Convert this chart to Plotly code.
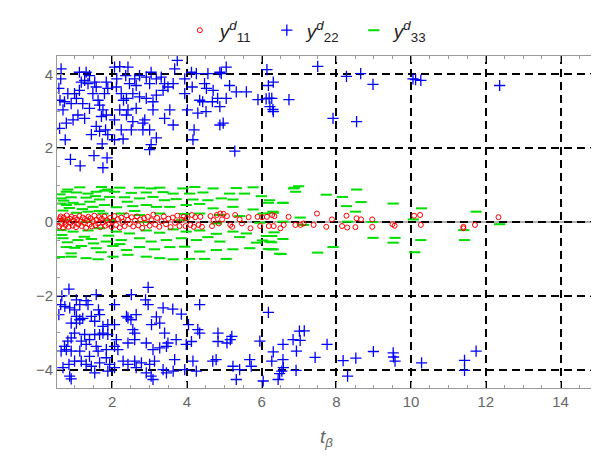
import plotly.graph_objects as go

# ---------------- data ----------------
# y^d_22 upper cluster
b_top_x = [0.63,0.62,0.57,0.6,0.68,0.59,0.74,0.88,1.14,0.77,0.95,1.08,1.26,0.9,0.99,1.12,1.17,1.12,1.3,1.39,
           1.26,1.35,1.53,1.57,1.48,1.62,1.66,1.75,1.84,1.71,1.57,1.44,1.66,1.82,1.88,1.73,1.51,1.86,1.75,1.39,
           1.21,1.04,0.81,0.72,1.84,1.88,1.79,2.06,2.2,2.42,2.36,2.12,2.11,2.24,2.3,2.38,2.46,2.6,2.64,2.73,
           2.91,3.04,3.0,3.18,3.31,3.4,3.49,3.63,3.36,3.18,3.09,2.91,2.73,2.55,2.64,2.42,2.2,2.38,2.55,2.51,
           2.24,2.29,2.06,2.06,2.82,2.82,3.0,3.18,3.04,3.0,2.87,3.09,3.4,3.54,3.63,3.67,3.74,3.94,3.94,4.01,
           4.12,4.25,4.14,4.34,4.47,4.52,4.56,4.7,4.88,4.92,5.05,5.14,5.32,5.59,5.05,4.82,4.68,4.42,4.51,4.29,
           4.88,4.19,4.16,4.88,4.97,5.28,5.9,6.14,6.18,6.31,6.27,6.22,6.31,6.73,7.5,8.27,8.65,8.98,7.91,8.54,
           10.05,10.12,10.26,12.37,6.12,6.2,6.3]
b_top_y = [4.15,3.88,3.62,3.3,3.04,2.54,2.23,1.7,1.52,2.68,2.77,2.9,2.81,3.21,3.48,3.57,3.79,4.06,4.06,3.97,
           3.84,3.75,3.79,3.66,3.48,3.3,3.17,3.04,2.9,2.86,2.59,2.37,2.46,2.5,2.37,2.12,1.8,1.74,1.47,3.08,
           3.21,3.35,3.48,3.26,3.79,3.62,3.48,4.2,4.21,4.2,3.97,3.88,3.66,3.48,3.3,3.35,3.75,3.88,3.7,3.97,
           3.93,4.06,3.75,3.88,3.93,3.75,3.66,3.75,3.57,3.44,3.26,3.35,3.39,3.48,3.08,3.04,3.04,2.9,2.72,2.5,
           2.5,2.25,2.23,2.77,2.68,2.5,2.5,2.28,2.1,1.96,2.77,3.04,2.81,3.04,2.63,4.15,4.38,3.88,3.48,3.04,
           4.06,4.02,3.66,3.3,3.75,3.62,4.02,3.57,4.06,4.02,4.2,3.7,3.53,3.53,3.35,3.35,3.26,3.26,2.99,2.95,
           3.13,2.5,2.23,2.63,2.68,1.92,3.32,4.13,3.7,3.79,3.35,3.13,2.99,3.32,4.22,3.95,4.02,3.73,2.81,2.72,
           3.88,3.86,3.84,3.7,3.34,3.36,3.05]

# y^d_22 lower cluster
b_bot_x = [0.84,0.65,1.57,2.51,2.96,2.89,2.96,2.06,1.04,1.13,1.35,1.3,0.62,0.73,0.86,0.99,0.57,1.04,1.13,0.9,
           1.04,1.21,1.44,1.66,1.63,1.53,1.75,1.88,2.06,2.38,2.64,2.5,2.42,3.18,3.36,3.62,3.85,4.34,4.04,3.05,
           3.27,3.4,2.55,2.6,4.29,4.34,4.83,5.2,5.16,5.07,4.83,4.12,3.98,3.71,3.49,3.45,3.27,3.09,2.91,2.6,
           2.42,2.11,2.06,2.15,1.88,1.75,1.66,1.53,1.39,1.26,1.17,0.99,0.9,0.81,0.72,0.77,0.63,0.9,1.13,1.3,
           1.57,1.62,1.84,1.39,1.17,0.99,1.44,1.3,1.66,1.84,1.93,2.06,1.88,1.53,0.84,0.68,0.86,0.9,2.29,2.42,
           2.6,2.64,2.78,3.0,3.13,2.91,3.04,3.09,3.36,3.45,3.63,3.67,3.94,4.16,4.25,4.78,4.69,5.23,5.41,5.68,
           5.72,5.32,5.95,6.18,6.31,6.57,6.57,6.27,6.44,6.54,6.04,6.84,6.93,7.01,7.14,7.03,7.43,7.75,6.58,6.48,
           6.92,8.18,8.3,8.52,8.99,9.52,9.53,9.57,10.28,11.43,11.43,11.74]
b_bot_y = [-1.82,-2.0,-1.97,-1.97,-1.77,-2.11,-2.24,-2.24,-2.11,-2.24,-2.24,-2.13,-2.24,-2.29,-2.33,-2.38,-2.51,-2.56,-2.65,-2.74,
           -2.74,-2.61,-2.56,-2.51,-2.38,-2.69,-2.83,-2.78,-2.78,-2.56,-2.51,-2.65,-2.6,-2.57,-2.33,-2.36,-2.5,-2.24,-2.78,-2.78,
           -2.74,-3.01,-2.92,-3.01,-2.92,-3.01,-3.01,-3.1,-3.19,-3.28,-3.24,-3.24,-3.32,-3.19,-3.28,-3.37,-3.41,-3.46,-3.28,-3.19,
           -3.28,-3.19,-3.37,-3.46,-3.05,-3.01,-3.05,-3.05,-3.19,-3.05,-3.23,-3.01,-3.14,-3.23,-3.37,-3.46,-3.5,-3.5,-3.5,-3.32,
           -3.37,-3.5,-3.46,-3.64,-3.77,-3.77,-3.91,-3.86,-3.82,-3.68,-3.86,-3.95,-4.04,-4.09,-3.86,-3.95,-4.18,-4.25,-3.77,-3.86,
           -3.77,-3.95,-3.82,-3.86,-3.77,-4.09,-4.18,-4.27,-4.0,-4.09,-4.04,-3.73,-4.0,-3.77,-4.04,-3.73,-3.77,-3.91,-4.0,-3.73,
           -3.91,-4.27,-3.23,-2.45,-3.52,-3.32,-3.73,-3.77,-4.27,-4.04,-4.31,-3.19,-3.5,-2.96,-2.95,-3.21,-3.67,-3.32,-3.95,-4.11,
           -4.02,-3.76,-4.18,-3.69,-3.51,-3.55,-3.66,-3.77,-3.82,-3.75,-4.02,-3.5]

# y^d_33
g_x = [1.13,1.71,2.2,2.73,3.04,3.27,3.89,4.21,4.7,5.32,5.77,6.88,0.81,1.88,0.77,1.04,1.35,1.57,2.06,2.51,
       2.91,3.36,3.63,4.07,4.43,5.14,5.54,5.99,0.63,0.9,1.3,1.66,1.93,2.33,2.73,3.09,3.4,3.71,4.16,4.56,
       4.92,5.23,6.21,6.57,0.63,0.77,1.13,1.48,1.79,2.11,2.55,2.91,3.18,3.54,3.98,4.34,4.7,5.23,5.77,6.3,
       0.68,1.04,1.35,1.75,2.24,2.73,3.27,3.94,4.34,4.88,5.41,6.04,0.77,1.3,1.93,2.82,3.85,4.79,5.95,0.63,
       0.95,1.35,1.66,2.11,2.46,2.91,3.27,3.63,3.98,4.34,4.79,5.23,5.59,6.13,0.68,1.08,1.44,1.84,2.24,2.73,
       3.04,3.45,3.85,4.25,4.56,4.88,5.41,5.86,6.21,0.77,1.17,1.57,2.02,2.38,2.73,3.13,3.54,3.94,4.34,4.79,
       5.23,5.68,6.26,6.48,0.59,0.9,1.3,1.62,2.02,2.42,2.91,3.27,3.63,4.07,4.47,5.05,6.99,6.85,6.91,7.73,
       8.16,8.54,6.18,6.57,8.27,8.66,6.31,7.03,8.51,9.52,10.28,11.74,10.06,8.3,8.96,6.57,7.12,6.02,6.27,6.27,
       6.18,6.31,6.57,6.52,7.5,7.91,8.98,9.57,9.52,10.26,10.1,11.43,11.41,12.37,6.33,0.6,0.7,0.85,0.95,1.2,
       1.4,1.55,1.65,1.8,0.65,0.8,1.0,1.25,1.5,1.7,1.9,2.2,2.4,2.6,0.9]
g_y = [0.94,0.95,0.93,0.93,0.91,0.93,0.91,0.95,0.91,0.92,0.94,0.93,0.88,0.88,0.82,0.8,0.77,0.82,0.82,0.79,
       0.8,0.81,0.77,0.77,0.8,0.77,0.77,0.7,0.64,0.67,0.66,0.61,0.68,0.67,0.64,0.68,0.59,0.62,0.61,0.59,
       0.64,0.61,0.59,0.52,0.5,0.46,0.48,0.41,0.46,0.4,0.43,0.46,0.41,0.41,0.46,0.49,0.37,0.41,0.34,0.28,
       0.31,0.25,0.28,0.23,0.23,0.19,0.23,0.22,0.23,0.19,0.16,0.23,0.05,0.01,0.05,0.0,0.05,-0.04,-0.02,-0.22,
       -0.26,-0.23,-0.17,-0.26,-0.31,-0.23,-0.29,-0.2,-0.26,-0.23,-0.32,-0.26,-0.31,-0.38,-0.44,-0.49,-0.46,-0.53,-0.49,-0.44,
       -0.53,-0.49,-0.44,-0.49,-0.41,-0.53,-0.41,-0.56,-0.53,-0.68,-0.65,-0.71,-0.65,-0.76,-0.68,-0.74,-0.68,-0.67,-0.8,-0.76,
       -0.74,-0.71,-0.74,-0.86,-0.95,-0.94,-0.98,-1.01,-0.94,-0.89,-0.94,-0.98,-1.01,-1.0,-1.0,-1.0,0.97,0.91,0.82,0.74,
       0.68,0.88,0.52,0.52,0.43,0.54,0.25,0.12,0.28,0.5,0.37,0.28,0.07,0.01,0.0,0.01,-0.08,-0.5,-0.38,-0.55,
       -0.73,-0.74,-0.46,-0.87,-0.83,-0.68,-0.43,-0.43,-0.56,-0.49,-0.82,-0.49,-0.22,-0.06,-0.28,0.75,0.58,0.38,0.52,0.35,
       0.55,0.7,0.3,0.85,-0.35,-0.55,-0.7,-0.4,-0.58,-0.82,-0.37,-0.6,0.55,0.3,-0.85]

# y^d_11
r_x = [0.56,0.58,0.6,0.62,0.64,0.66,0.68,0.7,0.72,0.75,0.78,0.8,0.83,0.86,0.88,0.91,0.94,0.97,1.0,1.03,
       1.06,1.09,1.12,1.15,1.18,1.21,1.24,1.27,1.3,1.33,1.36,1.39,1.42,1.45,1.48,1.52,1.55,1.58,1.62,1.65,
       1.68,1.72,1.75,1.79,1.82,1.86,1.9,1.94,1.98,2.02,2.06,2.1,2.15,2.2,2.24,2.28,2.33,2.38,2.42,2.47,
       2.52,2.56,2.61,2.66,2.7,2.75,2.8,2.85,2.9,2.95,3.0,3.05,3.1,3.15,3.2,3.26,3.32,3.38,3.44,3.5,
       3.56,3.62,3.68,3.74,3.8,3.86,3.91,4.0,4.13,4.22,4.36,4.31,4.09,3.96,4.18,4.4,4.63,4.67,4.8,4.89,
       4.98,4.94,5.07,5.16,5.21,5.29,5.41,5.65,5.7,5.89,6.01,5.96,6.14,6.19,6.28,6.34,6.32,6.5,6.59,6.72,
       6.9,7.04,4.85,5.47,4.71,7.48,7.88,7.73,8.15,8.29,8.27,8.51,8.54,8.66,8.96,8.96,9.5,9.56,10.08,10.24,
       10.26,11.4,11.4,11.71,12.34,7.12,7.39]
r_y = [0.02,-0.12,0.1,0.15,-0.05,0.05,-0.15,0.12,0.0,-0.08,0.18,0.06,-0.13,0.09,-0.03,0.14,-0.1,0.03,0.11,-0.14,
       0.07,-0.06,0.16,0.01,-0.11,0.12,-0.02,0.08,-0.16,0.04,0.14,-0.07,0.1,-0.12,0.02,0.17,-0.09,0.06,-0.04,0.13,
       -0.14,0.09,-0.01,0.15,-0.1,0.05,-0.06,0.11,-0.13,0.03,0.16,-0.08,0.08,-0.15,0.12,0.0,-0.11,0.18,0.06,-0.05,
       0.13,-0.12,0.04,0.15,-0.09,0.07,-0.16,0.1,-0.03,0.14,-0.1,0.05,0.2,-0.07,0.11,-0.13,0.02,0.15,-0.06,0.09,
       -0.14,0.12,-0.02,0.17,-0.11,0.06,0.14,0.1,0.19,0.13,0.14,-0.08,-0.08,-0.11,-0.13,-0.13,0.16,-0.11,0.19,0.23,
       0.22,0.07,0.16,-0.08,-0.13,0.19,0.07,0.13,-0.17,0.14,0.13,-0.11,0.14,-0.11,0.19,0.16,-0.11,-0.17,-0.08,0.14,
       -0.08,-0.08,-0.04,-0.04,0.05,0.23,0.07,-0.13,-0.11,-0.15,0.17,-0.14,0.1,0.07,0.07,-0.13,-0.06,-0.1,0.17,0.19,
       -0.08,-0.13,-0.17,-0.08,0.13,-0.04,-0.08]

x_ticks = [2, 4, 6, 8, 10, 12, 14]
y_ticks = [-4, -2, 0, 2, 4]
names = ["<i>y</i><sup><i>d</i></sup><sub>11</sub>",
         "<i>y</i><sup><i>d</i></sup><sub>22</sub>",
         "<i>y</i><sup><i>d</i></sup><sub>33</sub>"]

# ---------------- figure ----------------
fig = go.Figure()
fig.add_trace(go.Scatter(x=g_x, y=g_y, mode="markers", name=names[2],
                         marker=dict(symbol="line-ew-open", size=8, color="#00dd00",
                                     line=dict(color="#00dd00", width=2))))
fig.add_trace(go.Scatter(x=b_top_x + b_bot_x, y=b_top_y + b_bot_y, mode="markers", name=names[1],
                         marker=dict(symbol="cross-thin-open", size=8, color="#0000ff",
                                     line=dict(color="#0000ff", width=1.3))))
fig.add_trace(go.Scatter(x=r_x, y=r_y, mode="markers", name=names[0],
                         marker=dict(symbol="circle-open", size=5, color="#ff0000",
                                     line=dict(color="#ff0000", width=1))))

fig.add_shape(type="line", xref="paper", x0=0, x1=1, yref="y", y0=0, y1=0,
              line=dict(color="#999999", width=1.5), layer="below")

axis_common = dict(showline=True, linecolor="#999999", linewidth=1, mirror="ticks",
                   ticks="inside", ticklen=6, tickcolor="#999999", tickwidth=1,
                   showgrid=True, gridcolor="#000000", gridwidth=1.5, griddash="8px,5px",
                   zeroline=False, tickfont=dict(family="Liberation Sans", size=15, color="#666666"),
                   minor=dict(dtick=0.5, ticks="inside", ticklen=3, tickcolor="#999999", showgrid=False))

fig.update_xaxes(range=[0.52, 14.95], tickvals=x_ticks,
                 title=dict(text="<i>t</i><sub><i>β</i></sub>", standoff=20,
                            font=dict(family="Liberation Sans", size=19, color="#666666")),
                 **axis_common)
fig.update_yaxes(range=[-4.5, 4.5], tickvals=y_ticks, **axis_common)

fig.update_layout(
    width=591, height=448,
    margin=dict(l=49, r=3, t=48, b=68, autoexpand=False),
    plot_bgcolor="white", paper_bgcolor="white",
    showlegend=True,
    legend=dict(orientation="h", x=0.47, xanchor="center", y=1.02, yanchor="bottom",
                traceorder="reversed", font=dict(family="Liberation Sans", size=19, color="#222222"),
                entrywidth=42, entrywidthmode="pixels"),
)

fig.write_html("out.html")
